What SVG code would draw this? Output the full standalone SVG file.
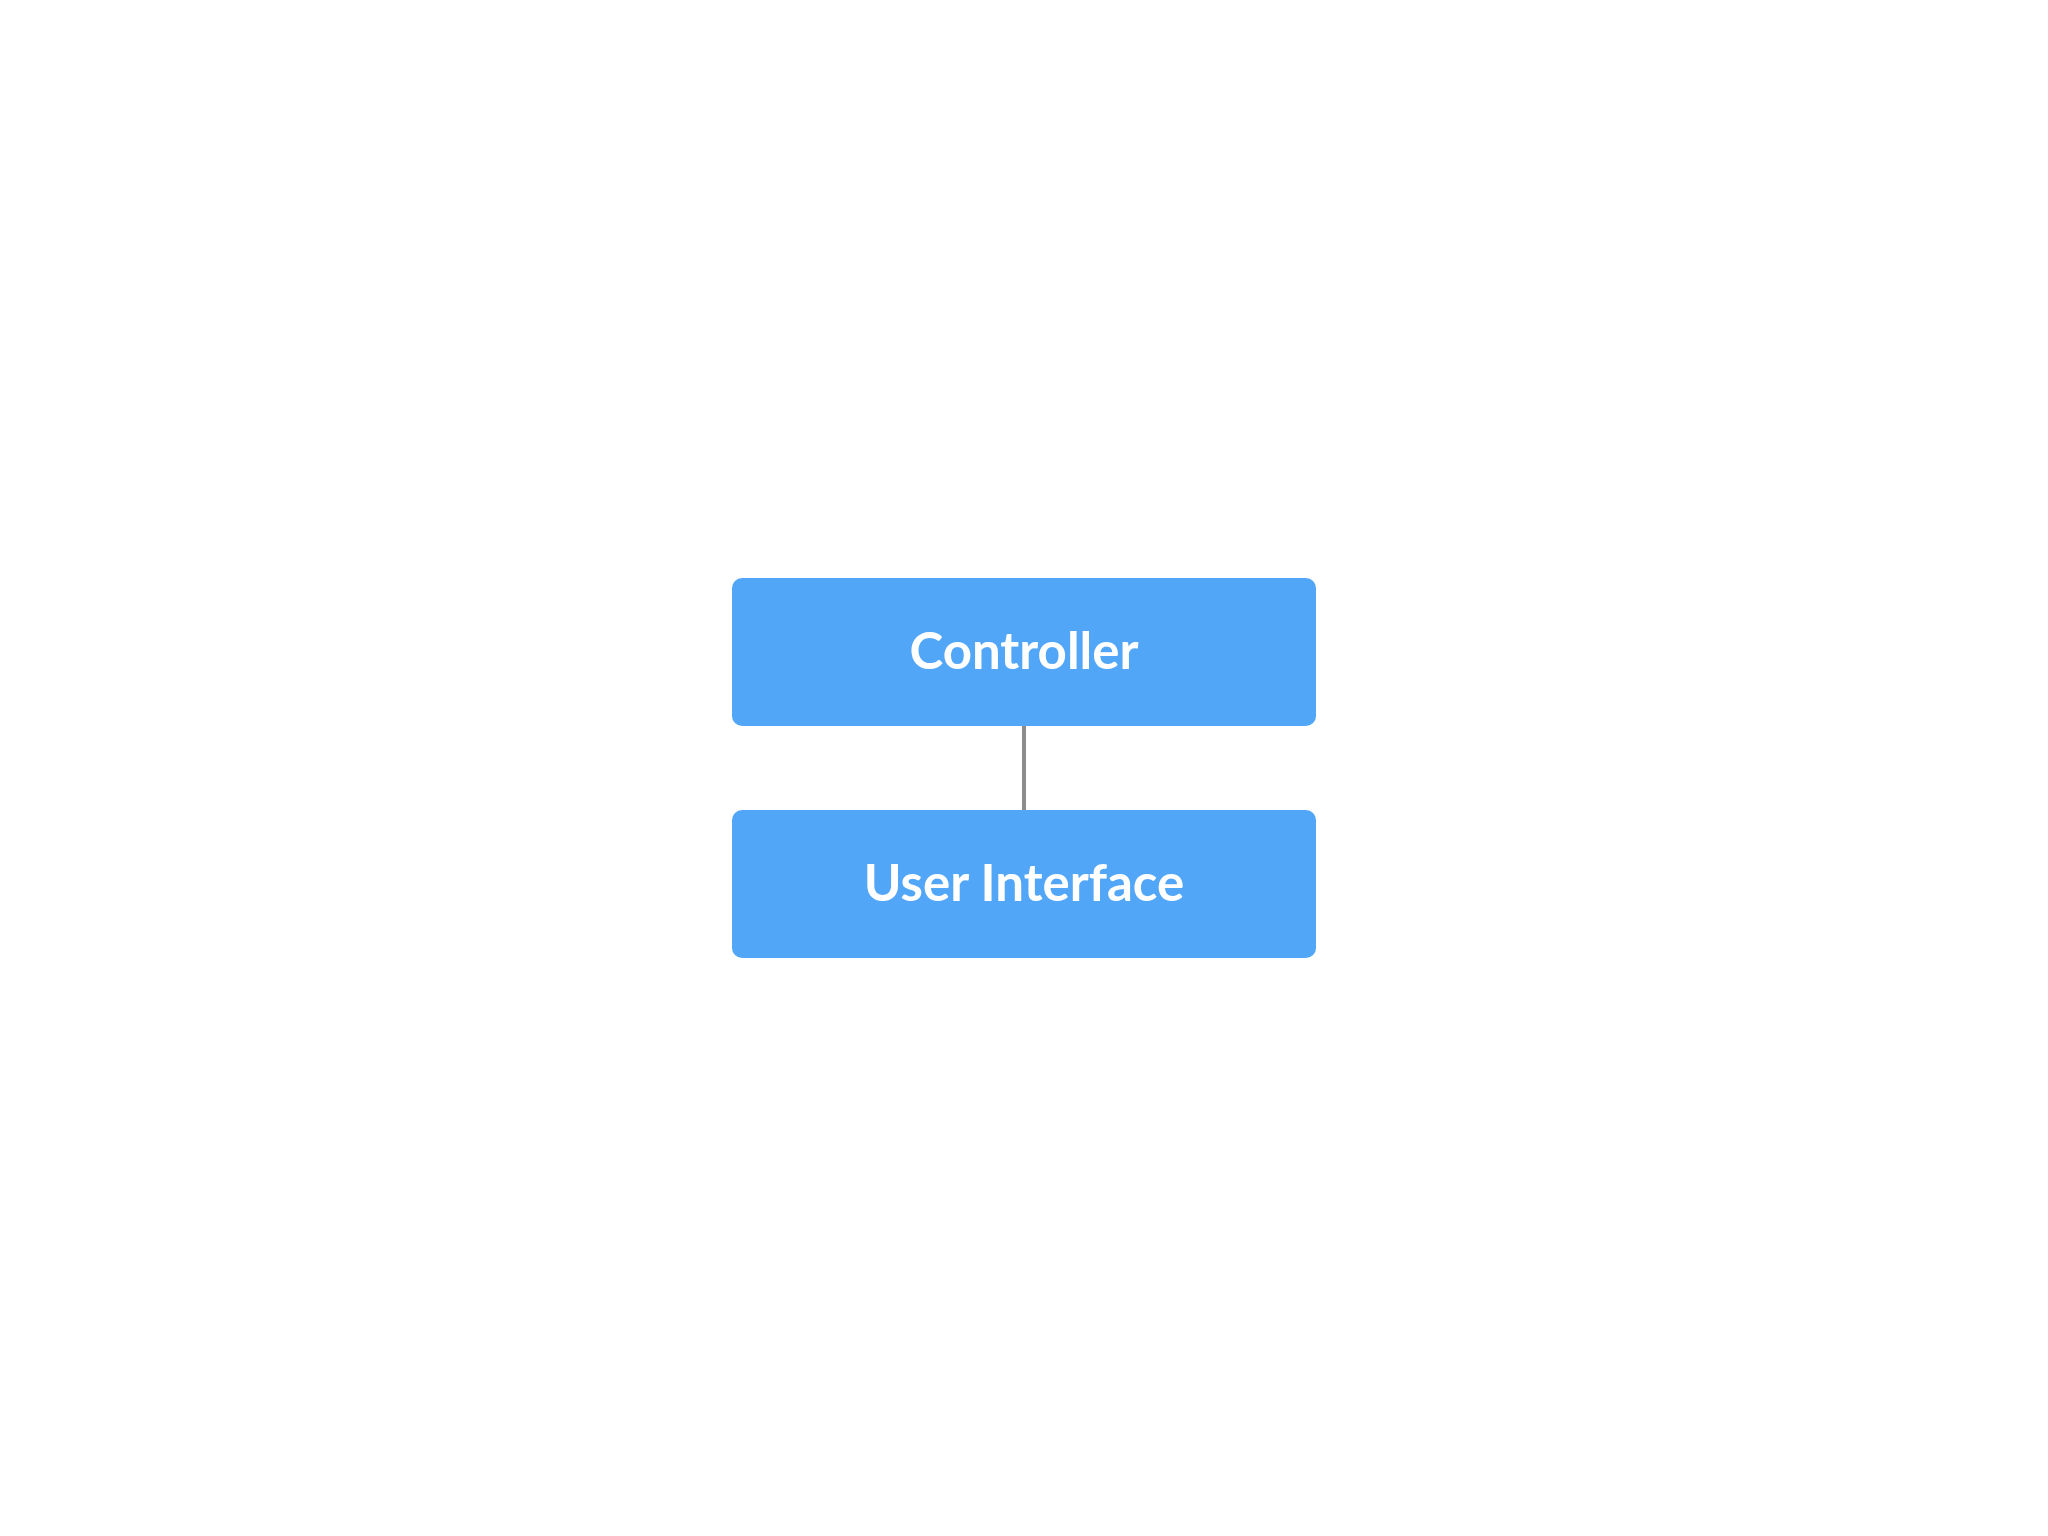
<svg xmlns="http://www.w3.org/2000/svg" width="2048" height="1536" viewBox="0 0 2048 1536">
<style>
.box{fill:#52a6f8}
.lbl{font-family:Lato,"Open Sans","DejaVu Sans",sans-serif;font-weight:700;font-size:51px;fill:#ffffff;text-anchor:middle}
.conn{stroke:#8c8c8c;stroke-width:4;fill:none}
</style>
<rect width="2048" height="1536" fill="#ffffff"/>
<g id="connectors">
<line class="conn" x1="1024" y1="726" x2="1024" y2="810"/>
</g>
<g id="controller">
<rect class="box" x="732" y="578" width="584" height="148" rx="10"/>
<text class="lbl" x="1024" y="669">Controller</text>
</g>
<g id="user-interface">
<rect class="box" x="732" y="810" width="584" height="148" rx="10"/>
<text class="lbl" x="1024" y="901">User Interface</text>
</g>
</svg>
